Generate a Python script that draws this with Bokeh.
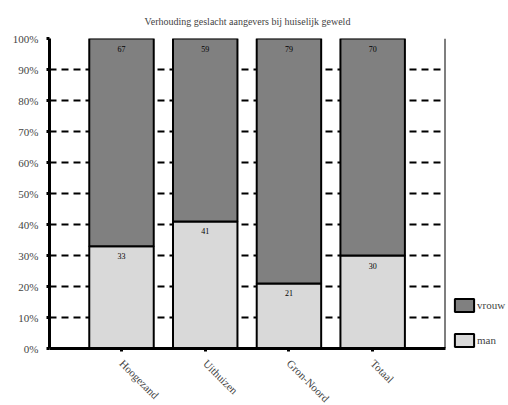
import math
from bokeh.plotting import figure
from bokeh.models import (ColumnDataSource, NumeralTickFormatter, FixedTicker, Span,
                          Legend, LegendItem, Range1d)
from bokeh.core.properties import value
from bokeh.embed import file_html
from bokeh.resources import INLINE

categories = ["Hoogezand", "Uithuizen", "Gron-Noord", "Totaal"]
man = [33, 41, 21, 30]
vrouw = [67, 59, 79, 70]
y_ticks = [0, 10, 20, 30, 40, 50, 60, 70, 80, 90, 100]

FONT = "Liberation Serif"
xs = list(range(len(categories)))
src = ColumnDataSource(dict(
    x=xs,
    man_top=[m / 100 for m in man],
    tot=[(m + v) / 100 for m, v in zip(man, vrouw)],
    man_lbl=[str(m) for m in man],
    vrouw_lbl=[str(v) for v in vrouw],
))

p = figure(frame_width=396, frame_height=310, output_backend="svg", toolbar_location=None,
           x_range=Range1d(-0.86, 3.87), y_range=Range1d(0, 1),
           min_border_left=49, min_border_right=60, min_border_top=38, min_border_bottom=52)
p.title.text = "Verhouding geslacht aangevers bij huiselijk geweld"
p.title.align = "center"
p.title.offset = 6
p.title.standoff = 23
p.title.text_font = FONT
p.title.text_font_size = "10px"
p.title.text_font_style = "normal"
p.outline_line_color = None
p.background_fill_color = "white"

# grid
p.xgrid.visible = False
p.ygrid.ticker = FixedTicker(ticks=[t / 100 for t in y_ticks])
p.ygrid.grid_line_color = "black"
p.ygrid.grid_line_width = 2
p.ygrid.grid_line_dash = "7 5"

# y axis
p.yaxis.ticker = FixedTicker(ticks=[t / 100 for t in y_ticks])
p.yaxis.formatter = NumeralTickFormatter(format="0%")
p.yaxis.axis_line_width = 3
p.yaxis.axis_line_color = "black"
p.yaxis.major_tick_in = 0
p.yaxis.major_tick_out = 3
p.yaxis.major_tick_line_width = 3
p.yaxis.minor_tick_line_color = None
p.yaxis.major_label_text_font = FONT
p.yaxis.major_label_text_font_size = "11px"
p.yaxis.major_label_standoff = 8

# x axis
p.xaxis.ticker = FixedTicker(ticks=xs)
p.xaxis.major_label_overrides = {i: c for i, c in enumerate(categories)}
p.xaxis.axis_line_width = 3
p.xaxis.axis_line_color = "black"
p.xaxis.major_tick_in = 0
p.xaxis.major_tick_out = 3
p.xaxis.major_tick_line_width = 3
p.xaxis.minor_tick_line_color = None
p.xaxis.major_label_text_font = FONT
p.xaxis.major_label_text_font_size = "11px"
p.xaxis.major_label_orientation = -math.pi / 4
p.xaxis.major_label_standoff = 10

r_man = p.vbar(x="x", bottom=0, top="man_top", width=0.77, source=src,
               fill_color="#d9d9d9", line_color="black", line_width=2)
r_vrouw = p.vbar(x="x", bottom="man_top", top="tot", width=0.77, source=src,
                 fill_color="#808080", line_color="black", line_width=2)

p.text(x="x", y="man_top", text="man_lbl", source=src, text_align="center",
       text_baseline="top", y_offset=7, text_font=value(FONT), text_font_size="8px",
       text_color="black")
p.text(x="x", y="tot", text="vrouw_lbl", source=src, text_align="center",
       text_baseline="top", y_offset=7, text_font=value(FONT), text_font_size="8px",
       text_color="black")

p.add_layout(Span(location=3.87, dimension="height", line_color="black", line_width=2))

legend = Legend(items=[LegendItem(label="vrouw", renderers=[r_vrouw]),
                       LegendItem(label="man", renderers=[r_man])],
                location=(7, 0), orientation="vertical",
                label_text_font=FONT, label_text_font_size="11px",
                glyph_width=24, glyph_height=16, label_standoff=1, spacing=19,
                padding=0, margin=0, border_line_color=None,
                background_fill_alpha=0)
p.add_layout(legend, "right")

open("out.html", "w").write(file_html(p, INLINE))
